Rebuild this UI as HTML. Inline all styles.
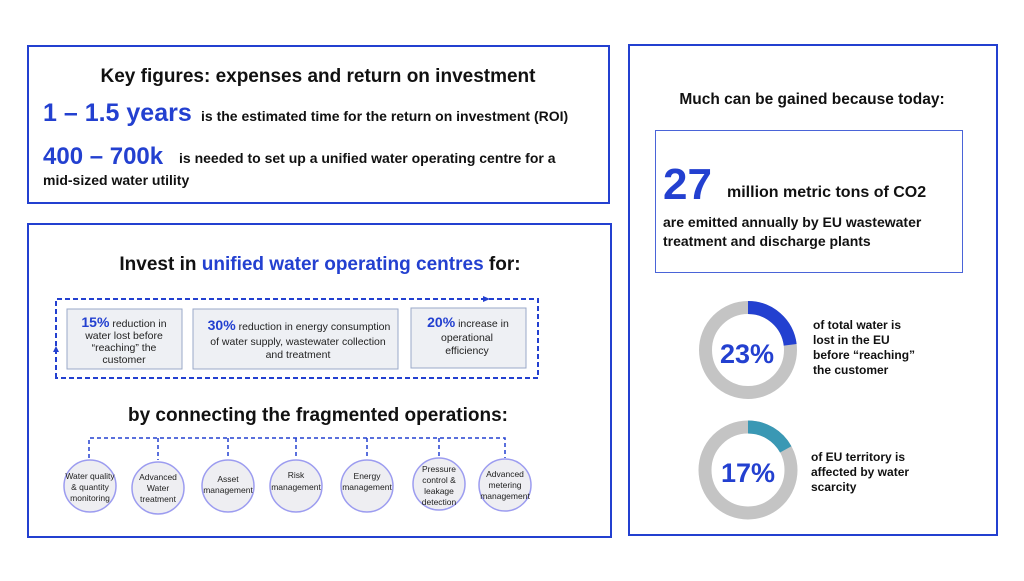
<!DOCTYPE html><html><head><style>
body{margin:0;background:#fff;width:1024px;height:576px;overflow:hidden;font-family:"Liberation Sans",sans-serif}
</style></head><body>
<svg width="1024" height="576" viewBox="0 0 1024 576" xmlns="http://www.w3.org/2000/svg" font-family="Liberation Sans, sans-serif">
<rect x="28" y="46" width="581" height="157" fill="none" stroke="#2340d0" stroke-width="2"/>
<rect x="28" y="224" width="583" height="313" fill="none" stroke="#2340d0" stroke-width="2"/>
<rect x="629" y="45" width="368" height="490" fill="none" stroke="#2340d0" stroke-width="2"/>
<rect x="655.5" y="130.5" width="307" height="142" fill="none" stroke="#4a64d8" stroke-width="1"/>

<text x="318" y="82" text-anchor="middle" font-size="19" font-weight="bold" fill="#111">Key figures: expenses and return on investment</text>
<text x="43" y="121" font-size="25" font-weight="bold" fill="#2340d0">1 – 1.5 years</text>
<text x="201" y="121" font-size="14" font-weight="bold" fill="#111">is the estimated time for the return on investment (ROI)</text>
<text x="43" y="164" font-size="24" font-weight="bold" fill="#2340d0">400 – 700k</text>
<text x="179" y="163" font-size="14" font-weight="bold" fill="#111">is needed to set up a unified water operating centre for a</text>
<text x="43" y="185" font-size="14" font-weight="bold" fill="#111">mid-sized water utility</text>

<text x="320" y="270" text-anchor="middle" font-size="19" font-weight="bold" fill="#111">Invest in <tspan fill="#2340d0">unified water operating centres</tspan> for:</text>

<path d="M56 378 V299 H538 V378 Z" fill="none" stroke="#2340d0" stroke-width="2" stroke-dasharray="5,3"/>
<path d="M483 296 L490 299 L483 302Z" fill="#2340d0"/>
<path d="M53 352 L56 346 L59 352Z" fill="#2340d0"/>
<g fill="#eef0f4" stroke="#9aa8c8" stroke-width="1">
<rect x="67" y="309" width="115" height="60"/><rect x="193" y="309" width="205" height="60"/><rect x="411" y="308" width="115" height="60"/></g>
<g font-size="10.5" fill="#222" text-anchor="middle">
<text x="124" y="327"><tspan font-size="14" font-weight="bold" fill="#2340d0">15%</tspan> reduction in</text>
<text x="124" y="339">water lost before</text><text x="124" y="351">“reaching” the</text><text x="124" y="363">customer</text>
<text x="299" y="330"><tspan font-size="14" font-weight="bold" fill="#2340d0">30%</tspan> reduction in energy consumption</text>
<text x="298" y="345">of water supply, wastewater collection</text><text x="298" y="358">and treatment</text>
<text x="468" y="327"><tspan font-size="14" font-weight="bold" fill="#2340d0">20%</tspan> increase in</text>
<text x="467" y="341">operational</text><text x="467" y="354">efficiency</text>
</g>
<text x="318" y="421" text-anchor="middle" font-size="19" font-weight="bold" fill="#111">by connecting the fragmented operations:</text>
<g stroke="#2340d0" stroke-width="1.5" stroke-dasharray="4,3" fill="none">
<path d="M89 458 V438 H505 V458"/><path d="M158 438 V460"/><path d="M228 438 V458"/><path d="M296 438 V458"/><path d="M367 438 V458"/><path d="M439 438 V456"/></g>
<g fill="#eeeef2" stroke="#9c9cf0" stroke-width="1.5">
<circle cx="90" cy="486" r="26"/><circle cx="158" cy="488" r="26"/><circle cx="228" cy="486" r="26"/><circle cx="296" cy="486" r="26"/><circle cx="367" cy="486" r="26"/><circle cx="439" cy="484" r="26"/><circle cx="505" cy="485" r="26"/></g>
<g font-size="8.5" fill="#222" text-anchor="middle">
<text x="90" y="479">Water quality</text><text x="90" y="490">&amp; quantity</text><text x="90" y="501">monitoring</text>
<text x="158" y="480">Advanced</text><text x="158" y="491">Water</text><text x="158" y="502">treatment</text>
<text x="228" y="482">Asset</text><text x="228" y="493">management</text>
<text x="296" y="478">Risk</text><text x="296" y="490">management</text>
<text x="367" y="479">Energy</text><text x="367" y="490">management</text>
<text x="439" y="472">Pressure</text><text x="439" y="483">control &amp;</text><text x="439" y="494">leakage</text><text x="439" y="505">detection</text>
<text x="505" y="477">Advanced</text><text x="505" y="488">metering</text><text x="505" y="499">management</text>
</g>

<text x="812" y="104" text-anchor="middle" font-size="15.5" font-weight="bold" fill="#111">Much can be gained because today:</text>
<text x="663" y="199" font-size="44" font-weight="bold" fill="#2340d0">27</text>
<text x="727" y="197" font-size="16" font-weight="bold" fill="#111">million  metric tons of CO2</text>
<text x="663" y="227" font-size="14" font-weight="bold" fill="#111">are emitted annually by EU wastewater</text>
<text x="663" y="246" font-size="14" font-weight="bold" fill="#111">treatment and discharge plants</text>

<circle cx="748" cy="350" r="42.5" fill="none" stroke="#c4c4c4" stroke-width="13"/>
<circle cx="748" cy="350" r="42.5" fill="none" stroke="#2340d0" stroke-width="13" stroke-dasharray="61.4 300" transform="rotate(-90 748 350)"/>
<text x="747" y="363" text-anchor="middle" font-size="27" font-weight="bold" fill="#2340d0">23%</text>
<circle cx="748" cy="470" r="43" fill="none" stroke="#c4c4c4" stroke-width="13"/>
<circle cx="748" cy="470" r="43" fill="none" stroke="#3a98b4" stroke-width="13" stroke-dasharray="45.9 300" transform="rotate(-90 748 470)"/>
<text x="748" y="482" text-anchor="middle" font-size="27" font-weight="bold" fill="#2340d0">17%</text>
<g font-size="12" font-weight="bold" fill="#111">
<text x="813" y="329">of total water is</text><text x="813" y="344">lost in the EU</text><text x="813" y="359">before “reaching”</text><text x="813" y="374">the customer</text>
<text x="811" y="461">of EU territory is</text><text x="811" y="476">affected by water</text><text x="811" y="491">scarcity</text>
</g>
</svg>
</body></html>
